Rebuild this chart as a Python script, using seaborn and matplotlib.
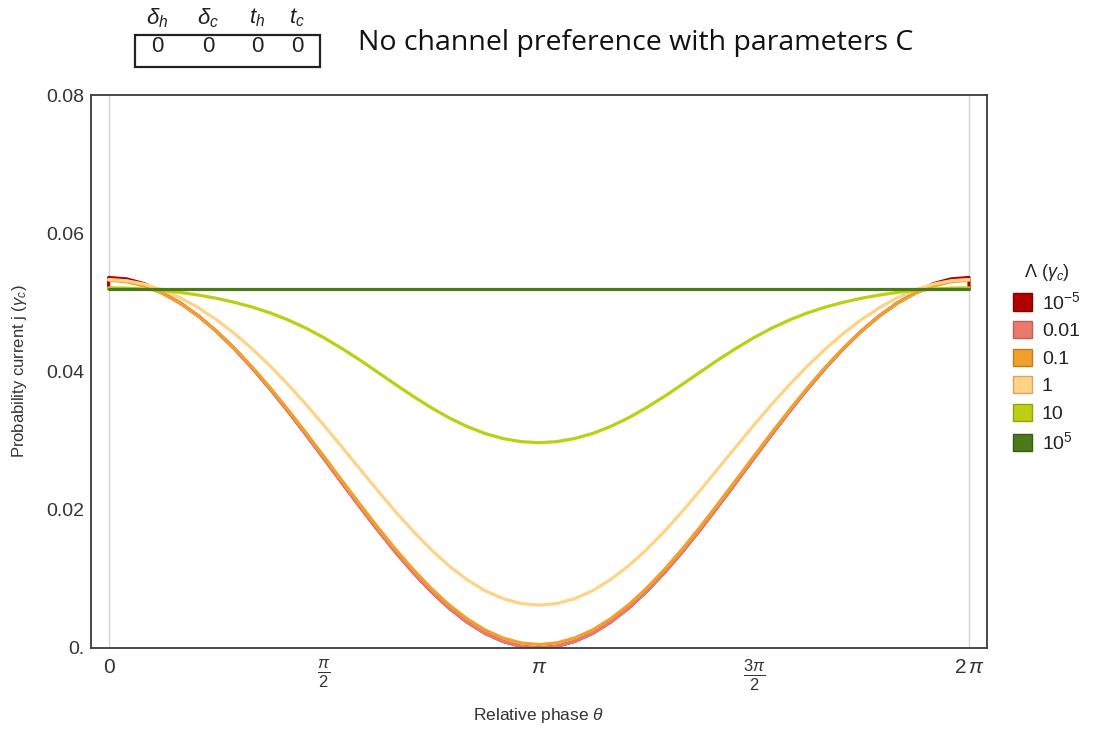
import numpy as np
import pandas as pd
import matplotlib
matplotlib.use("Agg")
import matplotlib.pyplot as plt
import seaborn as sns
from matplotlib.patches import Patch, Rectangle

# ---- data -----------------------------------------------------------------
# phase grid: theta = k * pi / 24, k = 0..48
K_STEPS = list(range(49))

LAMBDA_LABELS = [r"$10^{-5}$", "0.01", "0.1", "1", "10", r"$10^{5}$"]

J_001 = [0.05330, 0.05308, 0.05244, 0.05137, 0.04990, 0.04805, 0.04585, 0.04334,
         0.04054, 0.03751, 0.03428, 0.03091, 0.02745, 0.02395, 0.02049, 0.01711,
         0.01389, 0.01089, 0.00816, 0.00576, 0.00374, 0.00212, 0.00095, 0.00024,
         0.0,
         0.00024, 0.00095, 0.00212, 0.00374, 0.00576, 0.00816, 0.01089, 0.01389,
         0.01711, 0.02049, 0.02395, 0.02745, 0.03091, 0.03428, 0.03751, 0.04054,
         0.04334, 0.04585, 0.04805, 0.04990, 0.05137, 0.05244, 0.05308, 0.05330]

J_1E5M = [0.05360, 0.05340, 0.05270, 0.05137, 0.04990, 0.04805, 0.04585, 0.04334,
          0.04054, 0.03751, 0.03428, 0.03091, 0.02745, 0.02395, 0.02049, 0.01711,
          0.01389, 0.01089, 0.00816, 0.00576, 0.00374, 0.00212, 0.00095, 0.00024,
          0.0,
          0.00024, 0.00095, 0.00212, 0.00374, 0.00576, 0.00816, 0.01089, 0.01389,
          0.01711, 0.02049, 0.02395, 0.02745, 0.03091, 0.03428, 0.03751, 0.04054,
          0.04334, 0.04585, 0.04805, 0.04990, 0.05137, 0.05270, 0.05340, 0.05360]
# value exactly at theta = 0 and theta = 2 pi for the smallest Lambda
J_1E5M_EDGE = 0.0520

J_01 = [0.05320, 0.05299, 0.05235, 0.05130, 0.04986, 0.04804, 0.04588, 0.04341,
        0.04066, 0.03768, 0.03450, 0.03117, 0.02775, 0.02429, 0.02086, 0.01751,
        0.01431, 0.01133, 0.00862, 0.00623, 0.00422, 0.00261, 0.00145, 0.00074,
        0.00050,
        0.00074, 0.00145, 0.00261, 0.00422, 0.00623, 0.00862, 0.01133, 0.01431,
        0.01751, 0.02086, 0.02429, 0.02775, 0.03117, 0.03450, 0.03768, 0.04066,
        0.04341, 0.04588, 0.04804, 0.04986, 0.05130, 0.05235, 0.05299, 0.05320]

J_1 = [0.05330, 0.05313, 0.05263, 0.05181, 0.05067, 0.04923, 0.04751, 0.04553,
       0.04329, 0.04082, 0.03814, 0.03527, 0.03225, 0.02912, 0.02595, 0.02280,
       0.01974, 0.01686, 0.01421, 0.01186, 0.00988, 0.00829, 0.00714, 0.00644,
       0.00620,
       0.00644, 0.00714, 0.00829, 0.00988, 0.01186, 0.01421, 0.01686, 0.01974,
       0.02280, 0.02595, 0.02912, 0.03225, 0.03527, 0.03814, 0.04082, 0.04329,
       0.04553, 0.04751, 0.04923, 0.05067, 0.05181, 0.05263, 0.05313, 0.05330]

J_10 = [0.05210, 0.05206, 0.05193, 0.05172, 0.05144, 0.05106, 0.05060, 0.05002,
        0.04933, 0.04849, 0.04747, 0.04628, 0.04490, 0.04335, 0.04168, 0.03991,
        0.03813, 0.03639, 0.03476, 0.03329, 0.03204, 0.03103, 0.03030, 0.02985,
        0.02970,
        0.02985, 0.03030, 0.03103, 0.03204, 0.03329, 0.03476, 0.03639, 0.03813,
        0.03991, 0.04168, 0.04335, 0.04490, 0.04628, 0.04747, 0.04849, 0.04933,
        0.05002, 0.05060, 0.05106, 0.05144, 0.05172, 0.05193, 0.05206, 0.05210]

J_1E5 = [0.0520, 0.0520]  # flat over the full period

COLORS = ["#b00000", "#ea7a6d", "#f0a02c", "#ffd386", "#bccf12", "#4b7a18"]
EDGES = ["#8a0000", "#c25f55", "#c07c1c", "#d0a868", "#93a20c", "#385c10"]

# ---- long-form table ------------------------------------------------------
theta = np.array(K_STEPS) * np.pi / 24
rows = []
red_theta = np.concatenate([[0.0], theta, [2 * np.pi]])
red_vals = [J_1E5M_EDGE] + J_1E5M + [J_1E5M_EDGE]
for t, v in zip(red_theta, red_vals):
    rows.append((t, v, LAMBDA_LABELS[0]))
for lab, series in zip(LAMBDA_LABELS[1:5], [J_001, J_01, J_1, J_10]):
    for t, v in zip(theta, series):
        rows.append((t, v, lab))
for t, v in zip([0.0, 2 * np.pi], J_1E5):
    rows.append((t, v, LAMBDA_LABELS[5]))
df = pd.DataFrame(rows, columns=["theta", "j", "Lambda"])

# ---- style ----------------------------------------------------------------
sns.set_style("white")
plt.rcParams["font.family"] = ["Liberation Sans", "DejaVu Sans"]
plt.rcParams["mathtext.fontset"] = "custom"
plt.rcParams["mathtext.rm"] = "Liberation Sans"
plt.rcParams["mathtext.it"] = "Liberation Sans:italic"
plt.rcParams["mathtext.bf"] = "Liberation Sans:bold"

W, H = 1098, 731
fig = plt.figure(figsize=(W / 100, H / 100), dpi=100)
ax = fig.add_axes([91 / W, 1 - 648 / H, (987 - 91) / W, (648 - 95) / H])

ax.axvline(0, color="#d4d4d4", lw=1.0, zorder=0)
ax.axvline(2 * np.pi, color="#d4d4d4", lw=1.0, zorder=0)

palette = dict(zip(LAMBDA_LABELS, COLORS))
sns.lineplot(data=df, x="theta", y="j", hue="Lambda", hue_order=LAMBDA_LABELS,
             palette=palette, sort=False, estimator=None, lw=2.3, ax=ax,
             legend=False)

ax.set_xlim(-0.129, 2 * np.pi + 0.1315)
ax.set_ylim(0, 0.08)

ax.set_xticks([0, np.pi / 2, np.pi, 3 * np.pi / 2, 2 * np.pi])
ax.set_xticklabels(["0", r"$\frac{\pi}{2}$", r"$\pi$", r"$\frac{3\pi}{2}$", r"$2\,\pi$"])
ax.set_yticks([0, 0.02, 0.04, 0.06, 0.08])
ax.set_yticklabels(["0.", "0.02", "0.04", "0.06", "0.08"])
ax.tick_params(axis="both", direction="in", length=7, width=1.0, color="#333333",
               labelcolor="#333333", labelsize=14, top=False, right=False)
ax.tick_params(axis="y", pad=5)
ax.tick_params(axis="x", pad=7, labelsize=15)
for i, lbl in enumerate(ax.get_xticklabels()):
    if i in (1, 3):
        lbl.set_fontsize(17)
for s in ax.spines.values():
    s.set_color("#3a3a3a")
    s.set_linewidth(1.3)

ax.set_xlabel(r"Relative phase $\theta$", fontsize=12.5, color="#333333", labelpad=9)
ax.set_ylabel(r"Probability current j ($\gamma_c$)", fontsize=12, color="#333333", labelpad=12)

# legend with square swatches
handles = [Patch(facecolor=c, edgecolor=e, lw=1.0) for c, e in zip(COLORS, EDGES)]
leg = fig.legend(handles, LAMBDA_LABELS, title=r"$\Lambda$ ($\gamma_c$)",
                 loc="upper left", bbox_to_anchor=(1005 / W, 1 - 254 / H),
                 frameon=False, fontsize=14, title_fontsize=13,
                 handlelength=1.0, handleheight=1.0, handletextpad=0.5,
                 labelspacing=0.42, borderaxespad=0)
leg.get_title().set_color("#222222")
for t in leg.get_texts():
    t.set_color("#222222")

# parameter table and title
headers = [r"$\delta_h$", r"$\delta_c$", r"$t_h$", r"$t_c$"]
xs = [157, 208, 257, 297]
for x, h in zip(xs, headers):
    fig.text(x / W, 1 - 18 / H, h, ha="center", va="center", fontsize=16, color="#222222")
    fig.text(x / W, 1 - 47 / H, "0", ha="center", va="center", fontsize=16, color="#222222")
fig.patches.append(Rectangle((135 / W, 1 - 67 / H), 185 / W, 32 / H,
                             transform=fig.transFigure, fill=False,
                             edgecolor="#222222", lw=1.6))
fig.text(358 / W, 1 - 43 / H, "No channel preference with parameters C",
         ha="left", va="center", fontsize=20.5, color="#111111",
         family=["Open Sans", "DejaVu Sans"])

fig.savefig("out.png", dpi=100)
